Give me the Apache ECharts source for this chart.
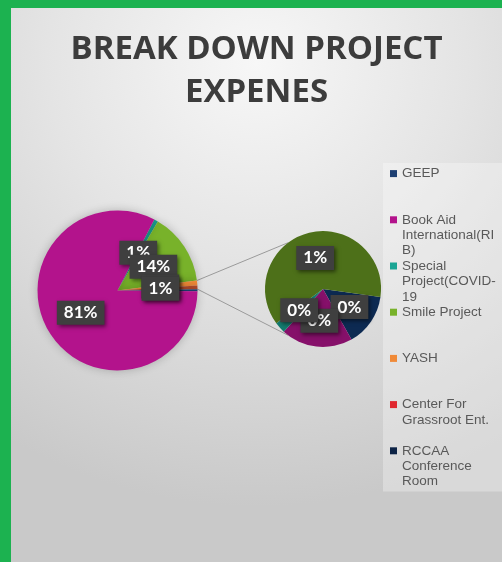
<!DOCTYPE html>
<html>
<head>
<meta charset="utf-8">
<script src="https://cdn.jsdelivr.net/npm/echarts@6.0.0/dist/echarts.min.js"></script>
<style>
html, body { margin: 0; padding: 0; background: #1cb250; }
#main {
  position: absolute; left: 0; top: 0;
  width: 491px; height: 554px;
  border-left: 11px solid #1cb250; border-top: 8px solid #1cb250;
  background: radial-gradient(ellipse 95% 80% at 50% 10%, #f7f7f7 0%, #e4e4e4 45%, #c9c9c9 100%);
}
</style>
</head>
<body>
<div id="main"></div>
<script>
// first pie (clockwise from the teal slice), values in % of all expenses
var mainNames = ['Special Project(COVID-19)', 'Smile Project', 'YASH', 'Center For Grassroot Ent.', 'GEEP', 'Book Aid International(RIB)'];
var mainValues = [0.8, 14.4, 1.0, 0.7, 0.4, 81.4];
var mainColors = ['#1aa594', '#78b22a', '#f08a38', '#b04a2a', '#1d3f72', '#b3138c'];

// second pie (break-out of the small items)
var subNames = ['RCCAA Conference Room', 'Item 8', 'Item 9', 'Item 10'];
var subValues = [0.19, 0.26, 0.04, 0.81];
var subColors = ['#0d2a52', '#86106a', '#137b6e', '#4d7019'];

// legend, as wrapped in the original
var legendNames = ['GEEP', 'Book Aid International(RIB)', 'Special Project(COVID-19)', 'Smile Project', 'YASH', 'Center For Grassroot Ent.', 'RCCAA Conference Room'];
var legendText = ['GEEP', 'Book Aid\nInternational(RI\nB)', 'Special\nProject(COVID-\n19', 'Smile Project', 'YASH', 'Center For\nGrassroot Ent.', 'RCCAA\nConference\nRoom'];
var legendColors = ['#1d3f72', '#b3138c', '#1aa594', '#78b22a', '#f08a38', '#e0282f', '#0d2346'];

var hiddenLabels = ['GEEP'];

var grandTotal = mainValues.concat(subValues).reduce(function (a, b) { return a + b; }, 0);

var chart = echarts.init(document.getElementById('main'));

var labelStyle = {
    show: true,
    position: 'inside',
    formatter: function (p) {
        return Math.round(p.value / grandTotal * 100) + '%';
    },
    color: '#fff',
    fontFamily: 'Lato',
    fontWeight: 'bold',
    fontSize: 17,
    backgroundColor: '#3f3f3f',
    padding: [4, 7, 3, 7],
    shadowBlur: 4,
    shadowColor: 'rgba(0,0,0,0.5)',
    shadowOffsetX: 2,
    shadowOffsetY: 2
};

var mainData = mainNames.map(function (n, i) {
    var d = { name: n, value: mainValues[i], itemStyle: { color: mainColors[i] } };
    if (hiddenLabels.indexOf(n) >= 0) d.label = { show: false };
    return d;
});
var subData = subNames.map(function (n, i) {
    return { name: n, value: subValues[i], itemStyle: { color: subColors[i] } };
});

chart.setOption({
    animation: false,
    title: {
        text: 'BREAK DOWN PROJECT\nEXPENES',
        left: 'center',
        top: 15,
        padding: [5, 5, 5, 17],
        textStyle: {
            fontFamily: 'Open Sans',
            fontWeight: 'bold',
            fontSize: 33,
            lineHeight: 43,
            color: '#3c3c3c'
        }
    },
    legend: {
        orient: 'vertical',
        left: 372,
        top: 155,
        padding: [3, 15, 2, 7],
        itemGap: 0,
        itemWidth: 7,
        itemHeight: 38,
        icon: 'path://M0,0h7v7h-7z M0,38',
        backgroundColor: 'rgba(255,255,255,0.3)',
        selectedMode: false,
        itemStyle: { borderWidth: 0 },
        data: legendNames.map(function (n, i) {
            return { name: n, itemStyle: { color: legendColors[i] } };
        }),
        formatter: function (name) {
            var t = legendText[legendNames.indexOf(name)];
            while (t.split('\n').length < 3) t += '\n';
            return t;
        },
        textStyle: {
            fontFamily: 'Liberation Sans',
            fontSize: 13.5,
            lineHeight: 15.4,
            color: '#595959'
        }
    },
    series: [
        {
            type: 'pie',
            center: [106.5, 282.5],
            radius: 80,
            startAngle: 62.6,
            avoidLabelOverlap: false,
            labelLayout: { hideOverlap: false },
            silent: true,
            itemStyle: { borderWidth: 0, shadowBlur: 10, shadowColor: 'rgba(0,0,0,0.22)' },
            label: labelStyle,
            labelLine: { show: false },
            data: mainData
        },
        {
            type: 'pie',
            center: [312, 281],
            radius: 58,
            startAngle: -8,
            avoidLabelOverlap: false,
            labelLayout: { hideOverlap: false },
            silent: true,
            itemStyle: { borderWidth: 0 },
            label: labelStyle,
            labelLine: { show: false },
            data: subData
        }
    ]
});

// connector lines, taken from the pie layouts
function drawLinks() {
    var m = chart.getModel();
    var d0 = m.getSeriesByIndex(0).getData();
    var a = d0.getItemLayout(mainNames.indexOf('YASH'));
    var b = d0.getItemLayout(mainNames.indexOf('Center For Grassroot Ent.'));
    var s = m.getSeriesByIndex(1).getData().getItemLayout(0);
    var t = 127 * Math.PI / 180;
    var p1 = [a.cx + a.r * Math.cos(a.startAngle), a.cy + a.r * Math.sin(a.startAngle)];
    var p2 = [b.cx + b.r * Math.cos(b.endAngle), b.cy + b.r * Math.sin(b.endAngle)];
    var q1 = [s.cx + s.r * Math.cos(t), s.cy - s.r * Math.sin(t)];
    var q2 = [s.cx + s.r * Math.cos(t), s.cy + s.r * Math.sin(t)];
    var ls = { stroke: '#9a9a9a', lineWidth: 1 };
    chart.setOption({
        graphic: [
            { type: 'line', z: 1, silent: true, shape: { x1: p1[0], y1: p1[1], x2: q1[0], y2: q1[1] }, style: ls },
            { type: 'line', z: 1, silent: true, shape: { x1: p2[0], y1: p2[1], x2: q2[0], y2: q2[1] }, style: ls }
        ]
    });
}
drawLinks();
</script>
</body>
</html>
